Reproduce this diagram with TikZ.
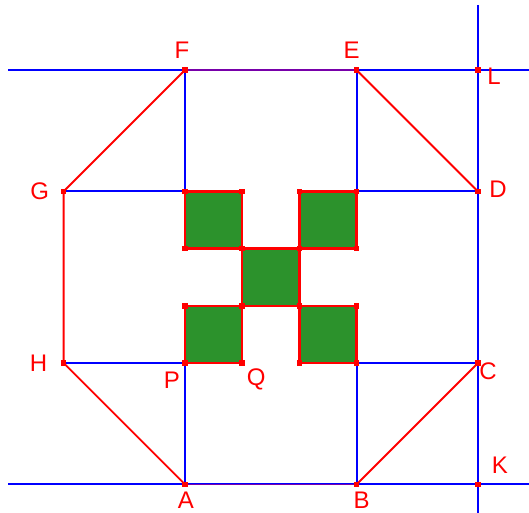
\documentclass[tikz,border=0pt]{standalone}
\usepackage{fontspec}
\setmainfont{Liberation Sans}
\usetikzlibrary{positioning}
\definecolor{cellgreen}{RGB}{44,146,44}
\definecolor{edgepurple}{RGB}{120,0,170}
\begin{document}
\begin{tikzpicture}[x=57.2pt,y=57.2pt,
    blueline/.style={blue, line width=2pt},
    redline/.style={red, line width=1.9pt},
    cell/.style={fill=cellgreen, draw=red, line width=2.4pt},
    dot/.style={rectangle, fill=red, minimum size=5.5pt, inner sep=0pt},
    lbl/.style={text=red, font=\fontsize{24}{28}\selectfont, inner sep=0pt}]
    \pgfmathsetmacro{\oct}{3/sqrt(2)}
    \useasboundingbox (-3.234,-2.622) rectangle (6.014,6.346);

    % Octagon vertices
    \coordinate (A) at (0,-\oct);
    \coordinate (B) at (3,-\oct);
    \coordinate (C) at ({3+\oct},0);
    \coordinate (D) at ({3+\oct},3);
    \coordinate (E) at (3,{3+\oct});
    \coordinate (F) at (0,{3+\oct});
    \coordinate (G) at (-\oct,3);
    \coordinate (H) at (-\oct,0);
    \coordinate (K) at ({3+\oct},-\oct);
    \coordinate (L) at ({3+\oct},{3+\oct});
    \coordinate (P) at (0,0);
    \coordinate (Q) at (1,0);
    \coordinate (R) at (0,3);  % corners of the block of squares
    \coordinate (S) at (3,3);
    \coordinate (T) at (3,0);

    % Free ends of the long lines
    \coordinate (topW) at (-3.094,{3+\oct});
    \coordinate (topE) at (6.1,{3+\oct});
    \coordinate (botW) at (-3.094,-\oct);
    \coordinate (botE) at (6.1,-\oct);
    \coordinate (vertN) at ({3+\oct},6.259);
    \coordinate (vertS) at ({3+\oct},-2.7);

    % Blue construction lines
    \draw[blueline] (topW) -- (topE);
    \draw[blueline] (botW) -- (botE);
    \draw[blueline] (vertN) -- (vertS);
    \draw[blueline] (F) -- (R);
    \draw[blueline] (P) -- (A);
    \draw[blueline] (E) -- (S);
    \draw[blueline] (T) -- (B);
    \draw[blueline] (G) -- (R);
    \draw[blueline] (S) -- (D);
    \draw[blueline] (H) -- (P);
    \draw[blueline] (T) -- (C);

    % Red sides of the octagon
    \draw[redline] (F) -- (G) -- (H) -- (A);
    \draw[redline] (B) -- (C);
    \draw[redline] (D) -- (E);
    \draw[edgepurple, line width=1.3pt] (F) -- (E);
    \draw[edgepurple, line width=1.3pt] (A) -- (B);

    % Green squares
    \foreach \i/\j in {0/2,2/2,1/1,0/0,2/0}
        \draw[cell] (\i,\j) rectangle ++(1,1);

    % Points
    \foreach \p in {A,B,C,D,E,F,G,H,K,L}
        \node[dot] (m\p) at (\p) {};
    \foreach \i/\j in {0/0,1/0,2/0,3/0,0/1,1/1,2/1,3/1,0/2,1/2,2/2,3/2,0/3,1/3,2/3,3/3}
        \node[dot] (c\i\j) at (\i,\j) {};

    % Labels
    \node[lbl, xshift=-3pt, yshift=20pt] (labF) at (F) {F};
    \node[lbl, xshift=-5pt, yshift=20pt] (labE) at (E) {E};
    \node[lbl, xshift=16pt, yshift=-6pt] (labL) at (L) {L};
    \node[lbl, xshift=20pt, yshift=2pt] (labD) at (D) {D};
    \node[lbl, xshift=10pt, yshift=-8pt] (labC) at (C) {C};
    \node[lbl, xshift=22pt, yshift=19pt] (labK) at (K) {K};
    \node[lbl, xshift=1pt, yshift=-16pt] (labA) at (A) {A};
    \node[lbl, xshift=5pt, yshift=-16pt] (labB) at (B) {B};
    \node[lbl, xshift=-24pt] (labG) at (G) {G};
    \node[lbl, xshift=-25pt] (labH) at (H) {H};
    \node[lbl, xshift=-13pt, yshift=-17pt] (labP) at (P) {P};
    \node[lbl, xshift=14pt, yshift=-16pt] (labQ) at (Q) {Q};
\end{tikzpicture}
\end{document}
